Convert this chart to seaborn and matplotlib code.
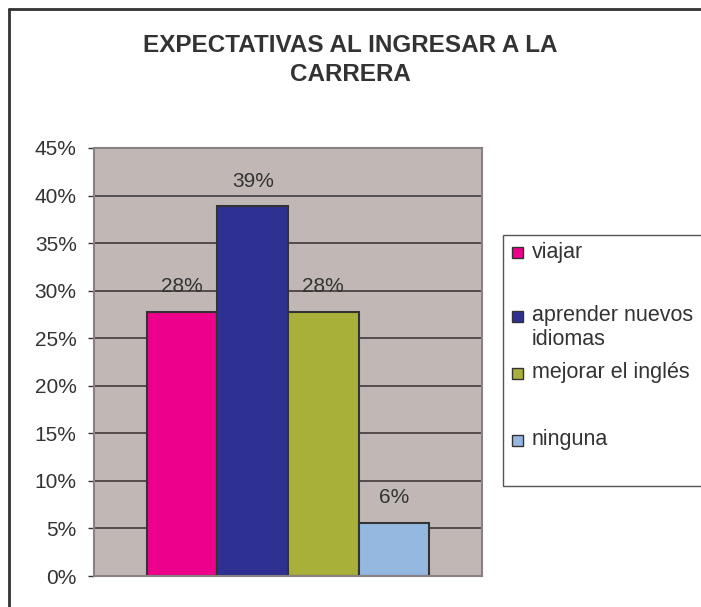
import matplotlib.pyplot as plt
import matplotlib.patches as mpatches
from matplotlib.lines import Line2D
import pandas as pd
import seaborn as sns

# datos del gráfico
categorias = ["viajar", "aprender nuevos\nidiomas", "mejorar el inglés", "ninguna"]
porcentajes = [0.278, 0.389, 0.278, 0.056]
colores = ["#EC008C", "#2E3192", "#A8B03A", "#95B8E0"]
ticks_y = [0, 0.05, 0.10, 0.15, 0.20, 0.25, 0.30, 0.35, 0.40, 0.45]
titulo = "EXPECTATIVAS AL INGRESAR A LA\nCARRERA"

sns.set_style("white")
plt.rcParams["font.family"] = ["Liberation Sans", "DejaVu Sans"]

W, H = 701, 607
texto = "#333333"

df = pd.DataFrame({"grupo": [""] * len(categorias),
                   "categoria": categorias,
                   "valor": porcentajes})

fig = plt.figure(figsize=(W / 100, H / 100), dpi=100)
ax = fig.add_axes([94 / W, 31 / H, 388 / W, 428 / H])
ax.set_facecolor("#C1B8B6")

sns.barplot(data=df, x="grupo", y="valor", hue="categoria",
            hue_order=categorias, palette=colores, saturation=1, width=0.727,
            edgecolor="#333333", linewidth=1.5, legend=False, ax=ax)

ax.set_ylim(0, 0.45)
ax.set_yticks(ticks_y)
ax.set_yticklabels([f"{t:.0%}" for t in ticks_y])
ax.set_xticks([])
ax.set_xlabel("")
ax.set_ylabel("")
ax.set_axisbelow(True)
ax.yaxis.grid(True, color="#4a4444", linewidth=1.3)
ax.tick_params(axis="y", left=True, length=4.5, width=1, color="#333333",
               labelsize=15, labelcolor=texto, pad=8)
for s in ax.spines.values():
    s.set_color("#8a8282")
    s.set_linewidth(1.5)

# etiquetas de porcentaje sobre las barras
for c in ax.containers:
    ax.bar_label(c, fmt="{:.0%}", padding=11, fontsize=15, color=texto)

# título
fig.text(350 / W, 1 - 60 / H, titulo, ha="center", va="center",
         fontsize=17.5, fontweight="bold", color=texto, linespacing=1.3)

# marco exterior del gráfico
fig.add_artist(Line2D([9 / W, 1], [1 - 9 / H, 1 - 9 / H], color="#333333", lw=2))
fig.add_artist(Line2D([9 / W, 9 / W], [0, 1 - 9 / H], color="#333333", lw=2))

# leyenda dibujada a mano (estilo Excel)
fig.add_artist(mpatches.Rectangle((503 / W, 1 - 486 / H), 220 / W, 251 / H,
                                  transform=fig.transFigure, facecolor="white",
                                  edgecolor="#555555", lw=1))
filas_y = [253, 316, 373, 440]
for cat, col, yc in zip(categorias, colores, filas_y):
    fig.add_artist(mpatches.Rectangle((512 / W, 1 - (yc + 5.5) / H), 11 / W, 11 / H,
                                      transform=fig.transFigure, facecolor=col,
                                      edgecolor="#333333", lw=1))
    fig.text(532 / W, 1 - (yc - 11) / H, cat, ha="left", va="top",
             fontsize=15.5, color=texto, linespacing=1.2)

fig.savefig("out.png", dpi=100)
